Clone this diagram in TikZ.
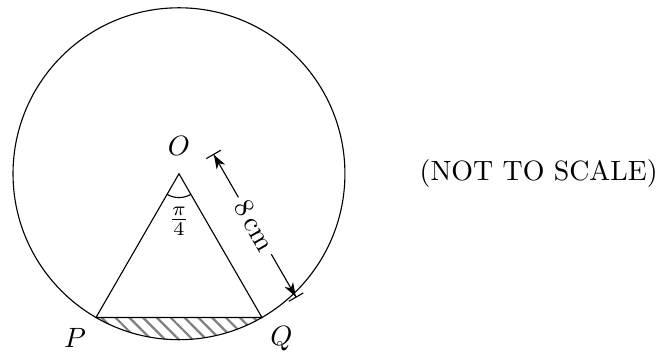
\documentclass[tikz,border=0pt]{standalone}
\usepackage{tikz}
\usepackage{xcolor}
\usetikzlibrary{arrows.meta,positioning,calc,patterns.meta}
\definecolor{Hatch}{HTML}{808080}
\tikzset{
  hatched/.style={pattern={Lines[angle=-45,distance=3.5pt,line width=0.8pt]}, pattern color=Hatch},
  dimline/.style={arrows={Bar[width=6pt]Stealth[length=5pt,width=3.5pt,inset=1.5pt]-Stealth[length=5pt,width=3.5pt,inset=1.5pt]Bar[width=6pt]}},
}

\begin{document}
\begin{tikzpicture}
        \useasboundingbox (-2.254,-2.271) rectangle (6.146,2.188);
        \coordinate (O) at (0,0);
        \coordinate (P) at (240:2.09);
        \coordinate (Q) at (300:2.09);
        % shaded segment under the chord
        \fill[hatched] (P) arc[start angle=240, end angle=300, radius=2.09] -- cycle;
        \draw (O) circle (2.09);
        \draw (P) -- (O) -- (Q) -- cycle;
        \draw ($(O)+(240:0.3)$) arc[start angle=240, end angle=300, radius=0.3];
        \node (oname) at (0,0.35) {$O$};
        \node (pname) at (-1.31,-2.07) {$P$};
        \node (qname) at (1.29,-2.08) {$Q$};
        \node (anglename) at (0,-0.6) {$\frac{\pi}{4}$};
        % radius dimension
        \coordinate (dimA) at ($(O)+(30:0.5)$);
        \coordinate (dimB) at ($(Q)+(30:0.5)$);
        \draw[dimline] (dimA) -- node[sloped, fill=white, inner sep=2pt] (dimname) {8\,cm} (dimB);
        \node (note) at (4.53,0) {(NOT TO SCALE)};
      \end{tikzpicture}
\end{document}
